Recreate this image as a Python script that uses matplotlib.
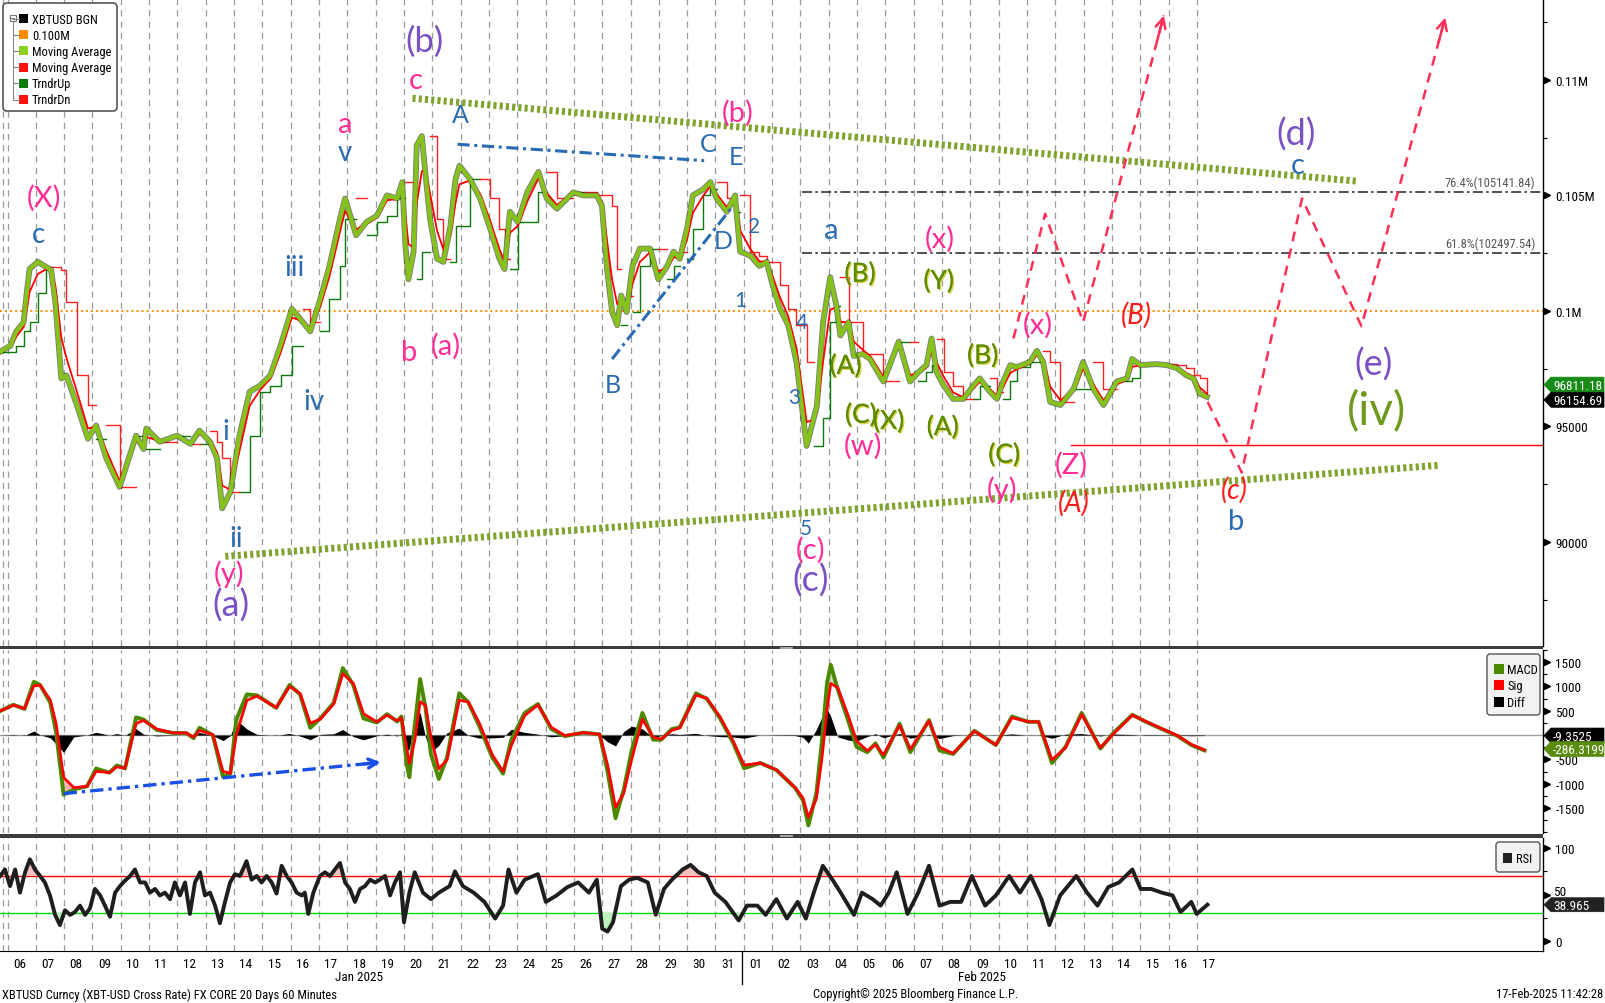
import numpy as np
import pandas as pd
import matplotlib
matplotlib.use("Agg")
import matplotlib.pyplot as plt
from matplotlib import font_manager as fm
from matplotlib.patches import Polygon, FancyBboxPatch, Rectangle
import matplotlib.transforms as mtransforms
import matplotlib.patheffects as pe

# ---------------- data ----------------
# x = day number (Jan d -> d, Feb d -> 31 + d), fractional part = time of day
price_day = [5.82, 6.18, 6.39, 6.65, 6.76, 6.86, 7.15, 7.44, 7.62, 7.77,
             7.98, 8.16, 8.53, 8.92, 9.21, 9.57, 10.04, 10.62, 10.88, 10.98,
             11.45, 12.07, 12.54, 12.86, 13.23, 13.48, 13.66, 13.95, 14.27, 14.63,
             15.00, 15.36, 15.72, 16.12, 16.51, 16.77, 17.13, 17.45, 17.82, 18.00,
             18.39, 18.76, 19.12, 19.48, 19.84, 20.02, 20.13, 20.24, 20.42, 20.53,
             20.71, 20.82, 21.00, 21.25, 21.47, 21.72, 21.90, 22.04, 22.41, 22.77,
             23.13, 23.45, 23.63, 23.82, 24.10, 24.43, 24.83, 25.12, 25.48, 26.06,
             26.42, 26.89, 27.07, 27.25, 27.43, 27.61, 27.75, 27.94, 28.15, 28.41,
             28.77, 29.06, 29.38, 29.60, 29.82, 30.07, 30.28, 30.65, 30.90, 31.12,
             31.48, 31.77, 31.95, 32.31, 32.63, 32.89, 33.10, 33.36, 33.65, 33.94,
             34.30, 34.55, 34.66, 34.88, 35.13, 35.35, 35.49, 35.78, 35.96, 36.29,
             36.54, 37.01, 37.55, 37.95, 38.24, 38.53, 38.71, 38.89, 39.14, 39.47,
             39.83, 40.19, 40.41, 40.77, 41.02, 41.24, 41.49, 41.71, 42.18, 42.43,
             42.65, 42.90, 43.26, 43.73, 44.06, 44.42, 44.78, 45.25, 45.61, 45.79,
             46.08, 46.66, 47.02, 47.38, 47.71, 47.96, 48.18, 48.43]
price_close = [98230, 98495, 99115, 99513, 100797, 101814, 102124, 101903, 101770, 100398,
               97080, 97212, 95929, 94469, 95044, 93628, 92389, 94602, 94026, 94911,
               94336, 94602, 94248, 94823, 94336, 93628, 91460, 92168, 94602, 96504,
               96770, 97212, 98496, 100089, 99513, 99115, 100531, 101947, 103983, 104868,
               103275, 103850, 104115, 105000, 104868, 105576, 102832, 101372, 102567, 107169,
               107567, 106151, 103983, 102257, 102124, 103673, 105708, 106284, 105708, 104868,
               103540, 102257, 101814, 104292, 103850, 105133, 106018, 104868, 104425, 105133,
               105000, 105000, 104558, 101814, 99956, 99381, 100664, 99956, 101947, 102699,
               102699, 101372, 101947, 102567, 102257, 103540, 105000, 105266, 105576, 104868,
               104292, 105000, 102567, 102390, 101947, 102124, 101106, 100089, 99381, 97788,
               94159, 95354, 95885, 99513, 101460, 100221, 98938, 99513, 98053, 98142,
               97920, 96947, 98673, 96947, 97345, 97655, 98805, 97345, 96770, 96195,
               96195, 96770, 97080, 96504, 96195, 96947, 97655, 97566, 97788, 98274,
               97788, 96062, 95929, 96637, 97788, 96637, 95929, 96947, 97080, 97920,
               97655, 97699, 97655, 97522, 97212, 97080, 96416, 96283]
last_ma = 96811.18
last_px = 96154.69
round_level = 100000
fib_levels = [105141.84, 102497.54]
fib_names = ["76.4%", "61.8%"]
support_level = 94185

macd_day = [5.82, 6.29, 6.68, 7.01, 7.23, 7.59, 7.80, 8.06, 8.42, 8.89,
            9.21, 9.68, 9.94, 10.23, 10.62, 10.88, 11.35, 11.92, 12.39, 12.65,
            12.86, 13.33, 13.69, 13.95, 14.16, 14.53, 14.89, 15.57, 16.04, 16.41,
            16.77, 17.13, 17.60, 17.92, 18.29, 18.65, 19.12, 19.48, 19.84,
            19.99, 20.18, 20.27, 20.46, 20.65, 20.84, 21.03, 21.31, 21.60, 22.03,
            22.35, 22.73, 23.20, 23.58, 23.87, 24.34, 24.81, 25.28, 25.76, 26.42,
            26.99, 27.27, 27.55, 27.84, 28.12, 28.50, 28.88, 29.16, 29.54, 29.82,
            30.39, 30.77, 31.24, 31.71, 32.09, 32.66, 33.23, 33.89, 34.17, 34.36,
            34.64, 34.83, 35.02, 35.15, 35.40, 35.78, 36.06, 36.44, 36.73, 37.01,
            37.58, 37.96, 38.62, 38.99, 39.47, 40.22, 40.98, 41.55, 42.12, 42.49,
            42.96, 43.44, 44.01, 44.67, 45.14, 45.80, 46.28, 46.84, 47.41, 47.88, 48.35]
macd_val = [495, 624, 537, 1096, 1032, 666, 43, -1226, -1118, -1053,
            -688, -774, -624, -688, 365, 322, 107, 43, 43, -64,
            150, 0, -860, -795, 322, 838, 817, 559, 1032, 838,
            150, 344, 666, 1376, 1032, 344, 258, 430, 279,
            382, -609, -866, 198, 1152, 565, -389, -903, -462, 859,
            675, 198, -462, -793, -95, 455, 639, 125, -22, 51,
            15, -756, -1710, -1123, -316, 455, -95, -95, 125, 161,
            859, 749, 345, -169, -683, -573, -719, -1086, -1343, -1857,
            -1197, -169, 1079, 1446, 932, 272, -242, -352, -169, -462,
            235, -352, 308, -316, -389, 88, -205, 382, 272, 272,
            -573, -242, 455, -279, 51, 418, 272, 125, -22, -205, -316]
macd_last_diff = -9.3525
macd_last = -286.3199

rsi_day = [5.82, 5.99, 6.17, 6.35, 6.52, 6.70, 6.87, 7.05, 7.23, 7.40,
           7.58, 7.76, 7.93, 8.11, 8.29, 8.46, 8.64, 8.82, 8.99, 9.17,
           9.35, 9.52, 9.70, 9.88, 10.05, 10.23, 10.41, 10.58, 10.76, 10.94,
           11.11, 11.29, 11.46, 11.64, 11.82, 11.99, 12.17, 12.35, 12.52, 12.70,
           12.88, 13.05, 13.23, 13.41, 13.58, 13.76, 13.94, 14.11, 14.29, 14.52,
           14.70, 14.88, 15.05, 15.23, 15.41, 15.58, 15.76, 15.94, 16.11, 16.29,
           16.47, 16.58, 16.70, 16.88, 17.11, 17.29, 17.47, 17.64, 17.82, 18.00,
           18.17, 18.35, 18.53, 18.70, 18.88, 19.06, 19.23, 19.41, 19.59, 19.76, 19.94,
           20.08, 20.27, 20.46, 20.75, 21.03, 21.31, 21.69, 21.88, 22.16, 22.54,
           22.92, 23.30, 23.58, 23.77, 24.05, 24.34, 24.81, 25.09, 25.47, 25.85,
           26.23, 26.61, 26.89, 27.08, 27.27, 27.46, 27.74, 28.03, 28.31, 28.69,
           28.97, 29.26, 29.54, 29.92, 30.20, 30.48, 30.77, 31.05, 31.43, 31.90,
           32.19, 32.56, 32.85, 33.23, 33.60, 33.98, 34.27, 34.55, 34.87, 35.21,
           35.50, 35.97, 36.25, 36.63, 36.91, 37.20, 37.48, 37.86, 38.24, 38.62,
           38.99, 39.37, 39.75, 40.13, 40.60, 40.98, 41.45, 41.83, 42.21, 42.59,
           42.87, 43.25, 43.82, 44.20, 44.57, 44.95, 45.33, 45.80, 46.09, 46.46,
           46.84, 47.22, 47.50, 47.88, 48.07, 48.45]
rsi_val = [70, 77, 59, 77, 52, 74, 88, 77, 70, 63,
           49, 28, 17, 33, 28, 31, 38, 28, 35, 56,
           49, 38, 26, 52, 59, 65, 70, 77, 63, 63,
           52, 56, 49, 52, 45, 63, 49, 63, 29, 63,
           74, 49, 52, 38, 19, 42, 63, 72, 70, 86,
           66, 70, 63, 70, 63, 51, 81, 70, 63, 52,
           49, 52, 29, 52, 70, 74, 70, 77, 84, 63,
           56, 42, 56, 59, 66, 63, 66, 70, 49, 63, 74,
           20, 52, 74, 52, 45, 52, 59, 75, 59, 52,
           42, 24, 38, 77, 52, 66, 72, 42, 49, 58,
           63, 52, 66, 13, 10, 20, 59, 66, 68, 63,
           28, 56, 66, 77, 82, 74, 70, 52, 42, 22,
           38, 38, 28, 45, 24, 42, 24, 52, 81, 66,
           52, 28, 52, 45, 38, 52, 74, 29, 52, 81,
           38, 42, 42, 70, 38, 49, 70, 52, 70, 45,
           17, 49, 70, 52, 38, 58, 63, 77, 56, 56,
           52, 49, 31, 42, 29, 39]
rsi_last = 38.965

jan_days = list(range(6, 32))
feb_days = list(range(1, 18))

# wave labels: (text, day, price, colour key, font size)
wave_labels = [
    ("(b)", 20.82, 111700, "purple", 25), ("(a)", 13.98, 87300, "purple", 26),
    ("(c)", 34.44, 88362, "purple", 26), ("(d)", 51.57, 107655, "purple", 26),
    ("(e)", 54.32, 97743, "purple", 26), ("(iv)", 54.43, 95664, "olivebig", 33),
    ("(X)", 7.37, 104912, "pink", 21), ("c", 20.49, 110000, "pink", 21),
    ("a", 17.99, 108098, "pink", 21), ("b", 20.27, 98230, "pink", 21),
    ("(a)", 21.57, 98496, "pink", 21), ("(b)", 31.87, 108585, "pink", 21),
    ("(x)", 38.99, 103142, "pink", 21), ("(x)", 42.47, 99425, "pink", 21),
    ("(w)", 36.28, 94203, "pink", 21), ("(y)", 41.20, 92300, "pink", 21),
    ("(Z)", 43.66, 93363, "pink", 21), ("(c)", 34.44, 89690, "pink", 21),
    ("(y)", 13.91, 88672, "pink", 21),
    ("c", 7.19, 103319, "blue", 20), ("i", 13.80, 94823, "blue", 20),
    ("ii", 14.16, 90177, "blue", 20), ("iii", 16.22, 101903, "blue", 20),
    ("iv", 16.91, 96106, "blue", 20), ("v", 17.99, 106859, "blue", 20),
    ("A", 22.08, 108496, "blue", 18), ("B", 27.47, 96814, "blue", 18),
    ("C", 30.83, 107257, "blue", 18), ("D", 31.37, 103053, "blue", 18),
    ("E", 31.80, 106681, "blue", 18), ("1", 31.95, 100487, "blue", 15),
    ("2", 32.45, 103673, "blue", 15), ("3", 33.86, 96283, "blue", 15),
    ("4", 34.12, 99513, "blue", 15), ("5", 34.26, 90619, "blue", 15),
    ("a", 35.17, 103496, "blue", 21), ("b", 49.48, 90929, "blue", 21),
    ("c", 51.65, 106328, "blue", 21),
    ("(B)", 36.18, 101593, "olive", 19), ("(A)", 35.67, 97611, "olive", 19),
    ("(C)", 36.21, 95487, "olive", 19), ("(X)", 37.19, 95221, "olive", 19),
    ("(Y)", 38.96, 101283, "olive", 19), ("(A)", 39.10, 94956, "olive", 19),
    ("(B)", 40.51, 98053, "olive", 19), ("(C)", 41.27, 93761, "olive", 19),
    ("(B)", 45.93, 99867, "red", 20), ("(A)", 43.73, 91725, "red", 20),
    ("(c)", 49.41, 92300, "red", 20),
]

upper_tl_day, upper_tl_px = [20.38, 53.71], [109204, 105620]
lower_tl_day, lower_tl_px = [13.77, 56.60], [89380, 93318]
ac_line_day, ac_line_px = [21.97, 30.68], [107213, 106505]
bd_line_day, bd_line_px = [27.43, 31.62], [97920, 104425]
proj1_day, proj1_px = [41.60, 42.72, 44.06, 46.91], [98805, 104204, 99513, 112788]
proj2_day, proj2_px = [48.46, 49.66, 51.79, 53.89, 56.85], [96062, 93009, 104868, 99336, 112700]
macd_div_day, macd_div_val = [8.06, 19.26], [-1204, -559]

# ---------------- fonts ----------------
avail = {f.name for f in fm.fontManager.ttflist}
def pick(cands):
    for c in cands:
        if c in avail:
            return c
    return "DejaVu Sans"
NARROW = pick(["Liberation Sans Narrow", "DejaVu Sans Condensed", "Roboto Condensed",
               "Open Sans Condensed", "Liberation Sans"])
WAVEF = pick(["Lato", "Open Sans", "DejaVu Sans"])
plt.rcParams["font.family"] = [NARROW, "DejaVu Sans"]

# ---------------- figure / axes ----------------
W, H = 1605, 1004
fig = plt.figure(figsize=(W / 100, H / 100), dpi=100)
fig.patch.set_facecolor("white")

def fy(py):
    return 1 - py / H

SPX = 1543
ax_p = fig.add_axes([0, fy(647), SPX / W, fy(0) - fy(647)])
ax_m = fig.add_axes([0, fy(834), SPX / W, fy(651) - fy(834)])
ax_r = fig.add_axes([0, fy(952), SPX / W, fy(839) - fy(952)])
XL = (5.815, 60.30)

for ax in (ax_p, ax_m, ax_r):
    ax.set_xlim(*XL)
    for s in ("top", "left", "bottom"):
        ax.spines[s].set_visible(False)
    ax.spines["right"].set_color("black")
    ax.spines["right"].set_linewidth(1.0)
    ax.set_xticks([])
    ax.yaxis.tick_right()
    ax.tick_params(axis="y", which="major", length=0, pad=9, labelsize=9.5)
    ax.tick_params(axis="y", which="minor", length=3, direction="out", width=0.8)
    for g in [5.92, 6.10] + [d + 0.08 for d in range(7, 49)]:
        ax.axvline(g, color="#9a9a9a", lw=0.9, ls=(0, (5, 4)), zorder=0)
ax_r.spines["bottom"].set_visible(True)
ax_r.spines["bottom"].set_color("black")

def tri_marks(ax, vals):
    tr = mtransforms.offset_copy(ax.get_yaxis_transform(), fig=fig, x=4, units="dots")
    ax.plot([1.0] * len(vals), vals, ls="none", marker=">", ms=4.5, color="black",
            transform=tr, clip_on=False)

# ---------------- price panel ----------------
base = pd.Timestamp("2025-01-01")
t_price = base + pd.to_timedelta(np.array(price_day) - 1.0, unit="D")
close = pd.Series(price_close, index=t_price, dtype=float)
ma_red = close.ewm(halflife=pd.Timedelta("4h"), times=t_price).mean()
roll_lo = close.rolling("10h").min()
roll_hi = close.rolling("10h").max()
up = np.where(close.values >= ma_red.values, roll_lo.values, np.nan)
dn = np.where(close.values < ma_red.values, roll_hi.values, np.nan)

ax_p.set_ylim(85500, 113500)
ax_p.set_yticks([90000, 95000, 100000, 105000, 110000])
ax_p.set_yticklabels(["90000", "95000", "0.1M", "0.105M", "0.11M"])
ax_p.set_yticks(np.arange(87500, 113000, 2500), minor=True)
tri_marks(ax_p, [90000, 95000, 100000, 105000, 110000])

ax_p.axhline(round_level, color="#ff8c00", lw=1.4, ls=(0, (1, 1.6)), zorder=1)
for lv, nm in zip(fib_levels, fib_names):
    ax_p.plot([34.15, XL[1]], [lv, lv], color="#333333", lw=1.2, ls=(0, (6, 2, 1.5, 2)), zorder=1)
    ax_p.text(60.02, lv + 120, f"{nm}({lv:.2f})", ha="right", va="bottom", fontsize=9,
              color="#555555")
ax_p.plot([43.62, XL[1]], [support_level, support_level], color="red", lw=1.0, zorder=2)

ax_p.step(price_day, up, where="post", color="#0d7a0d", lw=1.0, zorder=3)
ax_p.step(price_day, dn, where="post", color="#ff2020", lw=1.0, zorder=3)
ax_p.plot(price_day, price_close, color="#111111", lw=4.2, alpha=0.55, zorder=4)
ax_p.plot(price_day, ma_red.values, color="red", lw=1.3, zorder=4)
ax_p.plot(price_day, price_close, color="#86c21c", lw=3.0, zorder=5)

dot_green = "#7fa32c"
ax_p.plot(upper_tl_day, upper_tl_px, color=dot_green, lw=5, ls=(0, (0.45, 0.45)),
          solid_capstyle="butt", zorder=6)
ax_p.plot(lower_tl_day, lower_tl_px, color=dot_green, lw=5, ls=(0, (0.45, 0.45)),
          solid_capstyle="butt", zorder=6)
blue_dd = "#2a6bb5"
ax_p.plot(ac_line_day, ac_line_px, color=blue_dd, lw=2.2, ls=(0, (4, 1.5, 1, 1.5)), zorder=6)
ax_p.plot(bd_line_day, bd_line_px, color=blue_dd, lw=2.2, ls=(0, (4, 1.5, 1, 1.5)), zorder=6)

red_dash = "#ff2f55"
for pdays, ppx in ((proj1_day, proj1_px), (proj2_day, proj2_px)):
    ax_p.plot(pdays, ppx, color=red_dash, lw=1.8, ls=(0, (4, 3)), zorder=7)
    x0, y0, x1, y1 = pdays[-2], ppx[-2], pdays[-1], ppx[-1]
    xs, ys = x1 - 0.08 * (x1 - x0), y1 - 0.08 * (y1 - y0)
    ax_p.annotate("", xy=(x1, y1), xytext=(xs, ys),
                  arrowprops=dict(arrowstyle="->", color=red_dash, lw=1.8,
                                  mutation_scale=18, shrinkA=0, shrinkB=0), zorder=7)

colors = {"purple": "#7b52c4", "pink": "#ff2d95", "blue": "#2b6cb0",
          "olive": "#5e8c00", "olivebig": "#6f9a1e", "red": "#ff1a1a"}
for txt, d, p, ck, fs in wave_labels:
    kw = dict(ha="center", va="center", fontsize=fs, color=colors[ck], family=WAVEF, zorder=9)
    if ck == "red":
        kw["style"] = "italic"
    if ck == "olive":
        kw["path_effects"] = [pe.withSimplePatchShadow(offset=(1, -1), shadow_rgbFace="#d9cf3a",
                                                        alpha=0.9), pe.Normal()]
    ax_p.text(d, p, txt, **kw)

# ---------------- MACD panel ----------------
t_m = base + pd.to_timedelta(np.array(macd_day) - 1.0, unit="D")
macd = pd.Series(macd_val, index=t_m, dtype=float)
sig = macd.ewm(halflife=pd.Timedelta("3h"), times=t_m).mean()
diff = macd - sig
mv, sv, dv = macd.values, sig.values, diff.values

ax_m.set_ylim(-2014, 1707)
ax_m.set_yticks([-1500, -1000, -500, 500, 1000, 1500])
ax_m.set_yticklabels(["-1500", "-1000", "-500", "500", "1000", "1500"])
ax_m.set_yticks(np.arange(-2000, 1751, 250), minor=True)
tri_marks(ax_m, [-1500, -1000, -500, 500, 1000, 1500])
ax_m.axhline(0, color="#a0a0a0", lw=1.0, zorder=1)
ax_m.fill_between(macd_day, dv, 0, color="black", lw=0, zorder=2)
ax_m.fill_between(macd_day, mv, sv, where=mv < sv, interpolate=True, color="#f4b4b4", lw=0, zorder=2)
ax_m.fill_between(macd_day, mv, sv, where=mv >= sv, interpolate=True, color="#cdd8bd", lw=0, zorder=2)
ax_m.plot(macd_day, mv, color="#4b8a00", lw=2.8, zorder=3)
ax_m.plot(macd_day, sv, color="red", lw=2.0, zorder=4)
ax_m.plot(macd_div_day, macd_div_val, color="#1a4fe6", lw=2.4, ls=(0, (4, 1.5, 1, 1.5)), zorder=5)
ax_m.annotate("", xy=(macd_div_day[1], macd_div_val[1]),
              xytext=(macd_div_day[1] - 0.6, macd_div_val[1] - 0.6 * (macd_div_val[1] - macd_div_val[0]) / (macd_div_day[1] - macd_div_day[0])),
              arrowprops=dict(arrowstyle="->", color="#1a4fe6", lw=2.4, mutation_scale=16,
                              shrinkA=0, shrinkB=0), zorder=5)

# ---------------- RSI panel ----------------
ax_r.set_ylim(-11, 111)
ax_r.set_yticks([0, 100])
ax_r.set_yticklabels(["0", "100"])
ax_r.set_yticks([25, 75], minor=True)
tri_marks(ax_r, [0, 50, 100])
rv = np.array(rsi_val, dtype=float)
ax_r.axhline(70, color="red", lw=1.0, zorder=1)
ax_r.axhline(30, color="#00dd00", lw=1.0, zorder=1)
ax_r.fill_between(rsi_day, rv, 70, where=rv > 70, interpolate=True, color="#f6c0c0", lw=0, zorder=2)
ax_r.fill_between(rsi_day, rv, 30, where=rv < 30, interpolate=True, color="#bff0bf", lw=0, zorder=2)
ax_r.plot(rsi_day, rv, color="#1e1e1e", lw=2.8, zorder=3)

# x axis labels
xt = [d + 0.5 for d in jan_days] + [31 + d + 0.5 for d in feb_days]
xl = [f"{d:02d}" for d in jan_days] + [f"{d:02d}" for d in feb_days]
ax_r.set_xticks(xt)
ax_r.set_xticklabels(xl)
ax_r.tick_params(axis="x", length=0, pad=4, labelsize=9.5)

# ---------------- overlay (chrome) ----------------
ov = fig.add_axes([0, 0, 1, 1], zorder=20)
ov.set_xlim(0, W)
ov.set_ylim(H, 0)
ov.set_axis_off()
ov.patch.set_alpha(0)

def py_of(ax, v):
    return H - ax.transData.transform((XL[0], v))[1]

def px_of(ax, d):
    return ax.transData.transform((d, 0))[0]

# RSI "50" label sits just above the last-value tag
ov.text(SPX + 10, py_of(ax_r, 50) - 3, "50", fontsize=9.5, ha="left", va="center")

# separators
for y0 in (646.5, 835.0):
    ov.add_patch(Rectangle((0, y0), SPX, 3.6, color="#3c3c3c", lw=0))
    ov.plot([780, 792], [y0 + 1.2, y0 + 1.2], color="#bbbbbb", lw=0.6)
    ov.plot([780, 792], [y0 + 2.4, y0 + 2.4], color="#bbbbbb", lw=0.6)

def tag(ax, v, text, fc, half=7.5):
    yc = py_of(ax, v)
    pts = [(SPX + 1, yc), (SPX + 8, yc - half), (W - 1, yc - half), (W - 1, yc + half), (SPX + 8, yc + half)]
    ov.add_patch(Polygon(pts, closed=True, fc=fc, ec=fc, lw=0.5))
    ov.text(SPX + 10, yc + 0.5, text, color="white", fontsize=9.5, ha="left", va="center")

tag(ax_p, last_ma, f"{last_ma:.2f}", "#178a17")
tag(ax_p, last_px, f"{last_px:.2f}", "black")
tag(ax_m, macd_last_diff, f"{macd_last_diff:.4f}", "black")
tag(ax_m, macd_last, f"{macd_last:.4f}", "#5a8c10")
tag(ax_r, rsi_last, f"{rsi_last:.3f}", "#222222", half=7)

# top-left legend
ov.add_patch(FancyBboxPatch((3, 4), 114, 108, boxstyle="round,pad=0,rounding_size=4",
                            fc="white", ec="#555555", lw=1.2))
leg = [("XBTUSD BGN", "black"), ("0.100M", "#ff8c00"), ("Moving Average", "#8cd21e"),
       ("Moving Average", "#ff1010"), ("TrndrUp", "#0a7a0a"), ("TrndrDn", "#ff1010")]
ov.add_patch(Rectangle((9.5, 15.5), 6, 6, fc="white", ec="#777777", lw=0.8))
ov.plot([11, 14], [18.5, 18.5], color="#777777", lw=0.8)
ov.plot([12.5, 12.5], [21.5, 100], color="#888888", lw=0.8)
for i, (name, c) in enumerate(leg):
    yc = 19.5 + i * 16.2
    ov.plot([12.5, 18.5], [yc, yc], color="#888888", lw=0.8)
    ov.add_patch(Rectangle((19, yc - 4.5), 9, 9, fc=c, ec="none"))
    ov.text(32, yc + 0.5, name, fontsize=9, ha="left", va="center", color="black")

# MACD legend
ov.add_patch(FancyBboxPatch((1487, 655), 53, 61, boxstyle="round,pad=0,rounding_size=3",
                            fc="#f2f2f2", ec="#555555", lw=1.0))
for i, (name, c) in enumerate([("MACD", "#4b8a00"), ("Sig", "#ff0000"), ("Diff", "black")]):
    yc = 670 + i * 16.3
    ov.add_patch(Rectangle((1494, yc - 5), 10, 10, fc=c, ec="none"))
    ov.text(1507, yc + 0.5, name, fontsize=9, ha="left", va="center")

# RSI legend
ov.add_patch(FancyBboxPatch((1496, 843), 44, 30, boxstyle="round,pad=0,rounding_size=3",
                            fc="#f2f2f2", ec="#555555", lw=1.0))
ov.add_patch(Rectangle((1503, 854), 9, 10, fc="#222222", ec="none"))
ov.text(1516, 859.5, "RSI", fontsize=9, ha="left", va="center")

# month labels and separator
ov.text(px_of(ax_r, 18.48), 978, "Jan 2025", fontsize=9.5, ha="center", va="center")
ov.text(px_of(ax_r, 40.49), 978, "Feb 2025", fontsize=9.5, ha="center", va="center")
xs = px_of(ax_r, 32.0)
ov.plot([xs, xs], [952, 985], color="black", lw=0.9)

# footer
ov.text(2, 995, "XBTUSD Curncy (XBT-USD Cross Rate) FX CORE 20 Days 60 Minutes",
        fontsize=9, ha="left", va="center")
ov.text(916, 995, "Copyright\u00a9 2025 Bloomberg Finance L.P.", fontsize=9, ha="center", va="center")
ov.text(1603, 995, "17-Feb-2025 11:42:28", fontsize=9, ha="right", va="center")

fig.savefig("out.png", dpi=100, facecolor="white")
